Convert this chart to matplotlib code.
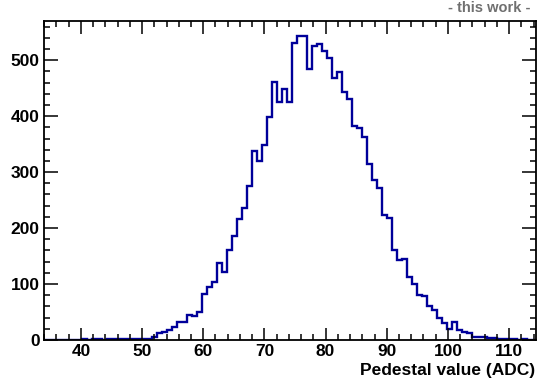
"""Pedestal distribution of all channels, drawn as a ROOT-style step histogram."""
import matplotlib
matplotlib.use("Agg")
import matplotlib.pyplot as plt
import numpy as np
from matplotlib.ticker import MultipleLocator

# binning of the pedestal histogram (ADC)
BIN_LO, BIN_WIDTH = 33.69, 0.817
counts = [
    0, 0, 0, 0, 0, 0, 0, 0, 1, 0,
    1, 1, 0, 1, 1, 1, 2, 1, 1, 2,
    1, 2, 5, 12, 14, 17, 24, 33, 32, 44,
    42, 50, 82, 95, 103, 137, 121, 161, 186, 217,
    236, 275, 338, 319, 349, 399, 461, 425, 449, 425,
    530, 543, 543, 485, 525, 529, 516, 504, 468, 478,
    444, 431, 383, 379, 363, 315, 286, 271, 224, 218,
    161, 143, 145, 112, 100, 81, 79, 61, 54, 40,
    31, 19, 33, 18, 15, 13, 6, 6, 5, 3,
    3, 2, 2, 1, 1, 0, 1, 0, 0,
]
edges = np.linspace(BIN_LO, BIN_LO + BIN_WIDTH * len(counts), len(counts) + 1)

x_ticks = [40, 50, 60, 70, 80, 90, 100, 110]
y_ticks = [0, 100, 200, 300, 400, 500]

LINE = "#00009a"
INK = "black"

plt.rcParams.update({
    "font.family": ["Liberation Sans", "DejaVu Sans"],
    "font.weight": "bold",
    "axes.linewidth": 1.3,
})

fig = plt.figure(figsize=(5.39, 3.87), dpi=100)
fig.patch.set_facecolor("white")
ax = fig.add_axes([44 / 539, 1 - 340 / 387, 492 / 539, 319 / 387])

ax.stairs(counts, edges, color=LINE, lw=1.7)

ax.set_xlim(33.97, 114.4)
ax.set_ylim(0, 570)
ax.set_xticks(x_ticks)
ax.set_yticks(y_ticks)
ax.xaxis.set_minor_locator(MultipleLocator(2))
ax.yaxis.set_minor_locator(MultipleLocator(20))
ax.tick_params(which="both", direction="in", top=True, right=True,
               colors=INK, width=1.1)
ax.tick_params(which="major", length=9, labelsize=12.5, pad=3)
ax.tick_params(which="minor", length=4.5)
ax.tick_params(axis="y", which="major", length=10)
for lab in ax.get_xticklabels() + ax.get_yticklabels():
    lab.set_fontweight("bold")

fig.text(535 / 539, 1 - 370 / 387, "Pedestal value (ADC)", ha="right", va="center",
         fontsize=12.5, weight="bold", color=INK)
fig.text(530 / 539, 1 - 8 / 387, "- this work -", ha="right", va="center",
         fontsize=10.5, weight="bold", color="#707070")

fig.savefig("out.png", dpi=100, facecolor="white")
